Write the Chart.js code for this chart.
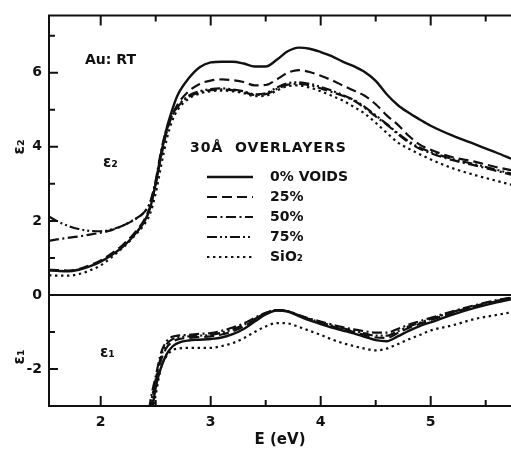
<!DOCTYPE html>
<html>
<head>
<meta charset="utf-8">
<title>Au: RT - 30Å overlayers</title>
<script src="https://cdn.jsdelivr.net/npm/chart.js@4.4.0/dist/chart.umd.min.js"></script>
<style>
  body { margin: 0; background: #fff; }
  #chart { display: block; }
</style>
</head>
<body>
<canvas id="chart" width="511" height="449"></canvas>
<script>
// values (photon energy in eV)
const seriesLabels = ["0% VOIDS", "25%", "50%", "75%", "SiO₂"];

const energyEps2 = [1.53, 1.6, 1.7, 1.8, 1.9, 2.0, 2.1, 2.2, 2.3, 2.4, 2.45, 2.5, 2.55, 2.6, 2.65, 2.7,
  2.8, 2.9, 3.0, 3.1, 3.2, 3.3, 3.4, 3.5, 3.6, 3.7, 3.8, 3.9, 4.0, 4.1, 4.2, 4.3, 4.4, 4.5, 4.6, 4.7,
  4.8, 4.9, 5.0, 5.2, 5.4, 5.6, 5.73];
const eps2Voids0 = [0.66, 0.65, 0.64, 0.68, 0.77, 0.9, 1.08, 1.3, 1.6, 2.0, 2.35, 3.0, 3.8, 4.5, 5.0, 5.4,
  5.85, 6.15, 6.28, 6.3, 6.3, 6.25, 6.17, 6.17, 6.35, 6.58, 6.68, 6.65, 6.56, 6.45, 6.3, 6.18, 6.02, 5.78, 5.42, 5.13,
  4.92, 4.74, 4.57, 4.3, 4.07, 3.84, 3.68];
const eps2Voids25 = [0.68, 0.67, 0.66, 0.7, 0.8, 0.93, 1.12, 1.35, 1.65, 2.05, 2.4, 3.0, 3.75, 4.4, 4.85, 5.15,
  5.5, 5.7, 5.79, 5.82, 5.8, 5.75, 5.66, 5.67, 5.82, 6.0, 6.07, 6.02, 5.92, 5.8, 5.66, 5.52, 5.38, 5.15, 4.85, 4.6,
  4.3, 4.06, 3.92, 3.72, 3.6, 3.45, 3.37];
const eps2Voids50 = [1.46, 1.5, 1.54, 1.58, 1.63, 1.68, 1.75, 1.87, 2.02, 2.25, 2.5, 3.1, 3.9, 4.5, 4.85, 5.08,
  5.35, 5.47, 5.53, 5.55, 5.53, 5.48, 5.4, 5.42, 5.56, 5.68, 5.7, 5.66, 5.58, 5.48, 5.38, 5.25, 5.05, 4.82, 4.6, 4.35,
  4.12, 3.95, 3.83, 3.64, 3.5, 3.35, 3.25];
const eps2Voids75 = [2.12, 2.0, 1.87, 1.78, 1.73, 1.72, 1.77, 1.87, 2.03, 2.25, 2.5, 3.05, 3.85, 4.45, 4.85, 5.1,
  5.38, 5.5, 5.56, 5.58, 5.55, 5.5, 5.42, 5.45, 5.6, 5.72, 5.74, 5.7, 5.62, 5.52, 5.4, 5.27, 5.08, 4.85, 4.62, 4.37,
  4.15, 3.98, 3.86, 3.67, 3.53, 3.38, 3.28];
const eps2SiO2 = [0.53, 0.52, 0.52, 0.56, 0.66, 0.8, 1.02, 1.27, 1.57, 1.92, 2.2, 2.75, 3.5, 4.2, 4.7, 5.0,
  5.3, 5.44, 5.5, 5.52, 5.5, 5.45, 5.37, 5.38, 5.52, 5.64, 5.66, 5.6, 5.5, 5.38, 5.25, 5.08, 4.9, 4.65, 4.38, 4.12,
  3.95, 3.8, 3.66, 3.42, 3.24, 3.08, 2.98];

const energyEps1 = [2.42, 2.45, 2.5, 2.55, 2.6, 2.65, 2.7, 2.8, 2.9, 3.0, 3.1, 3.2, 3.3, 3.4, 3.5, 3.6, 3.7,
  3.8, 3.9, 4.0, 4.1, 4.2, 4.3, 4.4, 4.5, 4.6, 4.7, 4.8, 4.9, 5.0, 5.2, 5.4, 5.6, 5.73];
const eps1Voids0 = [-4.2, -3.5, -2.5, -1.95, -1.6, -1.4, -1.3, -1.23, -1.21, -1.19, -1.15, -1.06, -0.92, -0.72, -0.53, -0.42, -0.45,
  -0.57, -0.69, -0.79, -0.88, -0.96, -1.04, -1.13, -1.22, -1.25, -1.12, -0.97, -0.84, -0.74, -0.53, -0.35, -0.2, -0.12];
const eps1Voids25 = [-3.9, -3.2, -2.35, -1.75, -1.42, -1.27, -1.2, -1.16, -1.14, -1.12, -1.07, -0.98, -0.85, -0.67, -0.5, -0.41, -0.44,
  -0.55, -0.66, -0.76, -0.85, -0.93, -1.0, -1.08, -1.15, -1.16, -1.03, -0.89, -0.78, -0.68, -0.48, -0.31, -0.17, -0.09];
const eps1Voids50 = [-3.6, -2.9, -2.2, -1.55, -1.25, -1.13, -1.1, -1.08, -1.05, -1.03, -0.97, -0.88, -0.77, -0.62, -0.48, -0.41, -0.44,
  -0.54, -0.64, -0.72, -0.8, -0.87, -0.93, -0.98, -1.02, -1.02, -0.92, -0.8, -0.71, -0.62, -0.44, -0.28, -0.14, -0.07];
const eps1Voids75 = [-3.75, -3.05, -2.28, -1.65, -1.33, -1.2, -1.15, -1.12, -1.1, -1.08, -1.02, -0.93, -0.81, -0.65, -0.49, -0.41, -0.44,
  -0.55, -0.65, -0.74, -0.83, -0.9, -0.97, -1.04, -1.1, -1.1, -0.98, -0.85, -0.75, -0.65, -0.46, -0.3, -0.16, -0.08];
const eps1SiO2 = [-4.4, -3.6, -2.7, -1.95, -1.65, -1.5, -1.45, -1.43, -1.43, -1.43, -1.38, -1.3, -1.17, -1.0, -0.85, -0.76, -0.77,
  -0.86, -0.97, -1.08, -1.2, -1.3, -1.38, -1.45, -1.5, -1.45, -1.33, -1.2, -1.08, -0.96, -0.82, -0.65, -0.54, -0.47];

const xTickValues = [2, 3, 4, 5];
const yTickValues = [-2, 0, 2, 4, 6];

const INK = "#111";
const FONT = "'DejaVu Sans', sans-serif";
const dashes = [[], [10, 5], [10, 3.5, 2, 3.5], [10, 3, 2, 3, 2, 3], [2.4, 3.6]];

function makeSet(label, xs, ys, i) {
  return {
    label: label,
    data: xs.map((x, k) => ({ x: x, y: ys[k] })),
    borderColor: INK,
    borderWidth: i === 0 ? 2.4 : 2.2,
    borderDash: dashes[i],
    pointRadius: 0,
    cubicInterpolationMode: "monotone",
    fill: false
  };
}

const eps2Sets = [eps2Voids0, eps2Voids25, eps2Voids50, eps2Voids75, eps2SiO2];
const eps1Sets = [eps1Voids0, eps1Voids25, eps1Voids50, eps1Voids75, eps1SiO2];
const datasets = [];
eps2Sets.forEach((ys, i) => datasets.push(makeSet(seriesLabels[i], energyEps2, ys, i)));
eps1Sets.forEach((ys, i) => datasets.push(makeSet(seriesLabels[i], energyEps1, ys, i)));

// frame, inward ticks, labels and the legend block
const framePlugin = {
  id: "frame",
  afterDatasetsDraw(chart) {
    const { ctx, chartArea: a, scales } = chart;
    const x = scales.x, y = scales.y;
    ctx.save();
    ctx.strokeStyle = INK;
    ctx.lineWidth = 2;
    ctx.setLineDash([]);
    const y0 = y.getPixelForValue(0);
    ctx.beginPath();
    ctx.moveTo(a.right, a.top); ctx.lineTo(a.left, a.top);
    ctx.lineTo(a.left, a.bottom); ctx.lineTo(a.right, a.bottom);
    ctx.moveTo(a.left, y0); ctx.lineTo(a.right, y0);
    for (let v = -2; v <= 7; v++) {
      const p = y.getPixelForValue(v);
      ctx.moveTo(a.left, p); ctx.lineTo(a.left + (v % 2 === 0 ? 9 : 6), p);
    }
    for (let e = 2; e <= 5.5; e += 0.5) {
      const p = x.getPixelForValue(e);
      const len = Number.isInteger(e) ? 10 : 6;
      ctx.moveTo(p, a.bottom); ctx.lineTo(p, a.bottom - len);
      ctx.moveTo(p, a.top); ctx.lineTo(p, a.top + len);
    }
    ctx.stroke();

    ctx.fillStyle = INK;
    ctx.textBaseline = "middle";
    ctx.font = "bold 14px " + FONT;
    ctx.textAlign = "left";
    ctx.fillText("Au: RT", 85, 60);
    ctx.font = "bold 15px " + FONT;
    ctx.fillText("ε₂", 103, 163);
    ctx.fillText("ε₁", 100, 353);
    ctx.textAlign = "center";
    ctx.fillText("E (eV)", (a.left + a.right) / 2, 440);
    [["ε₂", 147], ["ε₁", 357]].forEach(([t, py]) => {
      ctx.save();
      ctx.translate(20, py);
      ctx.rotate(-Math.PI / 2);
      ctx.fillText(t, 0, 0);
      ctx.restore();
    });

    // legend
    ctx.textAlign = "left";
    ctx.font = "bold 14px " + FONT;
    ctx.letterSpacing = "1px";
    ctx.fillText("30Å  OVERLAYERS", 190, 148);
    ctx.letterSpacing = "0px";
    seriesLabels.forEach((label, i) => {
      const ly = 177 + i * 20;
      const ds = chart.data.datasets[i];
      ctx.lineWidth = ds.borderWidth;
      ctx.setLineDash(ds.borderDash);
      ctx.beginPath();
      ctx.moveTo(207, ly); ctx.lineTo(253, ly);
      ctx.stroke();
      ctx.fillText(label, 270, ly);
    });
    ctx.restore();
  }
};

new Chart(document.getElementById("chart"), {
  type: "line",
  data: { datasets: datasets },
  options: {
    responsive: false,
    animation: false,
    layout: { padding: { top: 11, right: 0, left: 0, bottom: 0 } },
    plugins: { legend: { display: false }, tooltip: { enabled: false } },
    scales: {
      x: {
        type: "linear",
        min: 1.53,
        max: 5.73,
        grid: { display: false, drawTicks: false },
        border: { display: false },
        afterBuildTicks: (s) => { s.ticks = xTickValues.map((v) => ({ value: v })); },
        afterFit: (s) => { s.height = 43; },
        ticks: { color: INK, font: { family: FONT, size: 14, weight: "bold" }, padding: 8 }
      },
      y: {
        min: -3,
        max: 7.55,
        grid: { display: false, drawTicks: false },
        border: { display: false },
        afterBuildTicks: (s) => { s.ticks = yTickValues.map((v) => ({ value: v })); },
        afterFit: (s) => { s.width = 49; },
        ticks: { color: INK, font: { family: FONT, size: 14, weight: "bold" }, padding: 7 }
      }
    }
  },
  plugins: [framePlugin]
});
</script>
</body>
</html>
